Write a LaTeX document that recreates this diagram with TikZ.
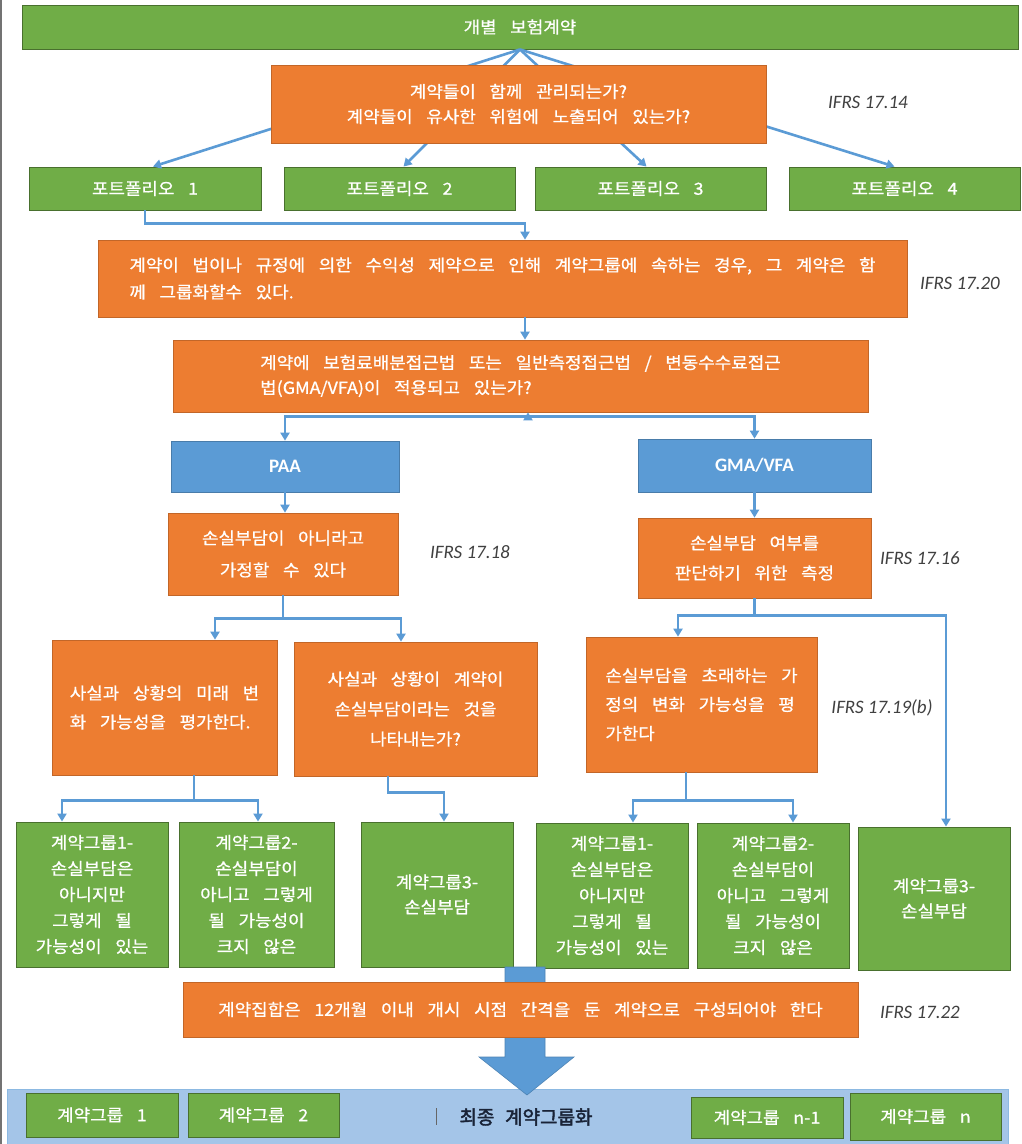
\documentclass[tikz,border=0pt]{standalone}
\usepackage{fontspec}
\newfontfamily\kr{Noto Sans CJK KR}[WordSpace=3.4,FakeStretch=1.08,FakeBold=0.8]
\newfontfamily\krb{Noto Sans CJK KR}[WordSpace=2.5,FakeBold=2.2]
\newfontfamily\ifrsfont{Carlito}
\usetikzlibrary{arrows.meta,calc}
\definecolor{og}{HTML}{ED7D31}
\definecolor{gr}{HTML}{70AD47}
\definecolor{bl}{HTML}{5B9BD5}
\definecolor{lb}{HTML}{A4C5E8}
\begin{document}
\begin{tikzpicture}[x=1pt,y=-1pt,
  box/.style={rectangle, inner sep=0pt, text=white, align=center,
    font=\kr\fontsize{16.6}{26}\selectfont},
  ob/.style={box, fill=og, draw=og!82!black, line width=0.7pt},
  gb/.style={box, fill=gr, draw=gr!65!black, line width=0.9pt},
  bb/.style={box, fill=bl, draw=bl!80!black, line width=0.7pt,
    font=\ifrsfont\bfseries\fontsize{19}{22}\selectfont},
  ref/.style={font=\ifrsfont\itshape\fontsize{19}{22}\selectfont, text=black!75},
  conn/.style={draw=bl, line width=2.6pt},
  arr/.style={conn, -{Triangle[length=8pt,width=9pt]}},
  ls/.style={font=\kr\fontsize{16.6}{#1}\selectfont}
]
\useasboundingbox (0,0) rectangle (1022,1144);
\fill[white] (0,0) rectangle (1022,1144);
\draw[black!55, line width=2pt] (1,0) -- (1,1144);

% top bar and portfolios
\node[gb, minimum width=996pt, minimum height=44pt] (top) at (520,27) {개별 보험계약};
\node[gb, minimum width=232pt, minimum height=43pt] (p1) at (145,188.5) {포트폴리오 1};
\node[gb, minimum width=231pt, minimum height=43pt] (p2) at (399.5,188.5) {포트폴리오 2};
\node[gb, minimum width=231pt, minimum height=43pt] (p3) at (650.5,188.5) {포트폴리오 3};
\node[gb, minimum width=231pt, minimum height=43pt] (p4) at (904.5,188.5) {포트폴리오 4};
\draw[arr] (top.south) -- ($(p1.north)+(8,0)$);
\draw[arr] (top.south) -- ($(p2.north)+(4,0)$);
\draw[arr] (top.south) -- ($(p3.north)+(-4,0)$);
\draw[arr] (top.south) -- ($(p4.north)+(-10,0)$);

\node[ob, minimum width=495pt, minimum height=78pt, ls=25] (b1) at (518.5,104)
  {계약들이 함께 관리되는가?\\계약들이 유사한 위험에 노출되어 있는가?};
\node[ref] (r1) at (868,102) {IFRS 17.14};

\node[ob, minimum width=809pt, minimum height=77pt, align=left, ls=27] (b2) at (502.5,278.5)
  {계약이 법이나 규정에 의한 수익성 제약으로 인해 계약그룹에 속하는 경우, 그 계약은 함\\께 그룹화할수 있다.};
\node[ref] (r2) at (960,283) {IFRS 17.20};
\draw[arr] (p1.south) -- ++(0,13) -| ($(b2.north)+(22.5,0)$);

\node[ob, minimum width=695pt, minimum height=72pt, align=left, ls=25] (b3) at (520.5,376)
  {계약에 보험료배분접근법 또는 일반측정접근법 / 변동수수료접근\\법(GMA/VFA)이 적용되고 있는가?};
\coordinate (c1) at ($(b2.south)+(22.5,0)$);
\draw[arr] (c1) -- (c1 |- b3.north);

\node[bb, minimum width=228pt, minimum height=51pt] (paa) at (285,466.5) {PAA};
\node[bb, minimum width=233pt, minimum height=53pt] (gma) at (754.5,465.5) {GMA/VFA};
\draw[arr] ($(b3.south)+(0,4)$) -| (paa.north);
\draw[arr] ($(b3.south)+(0,4)$) -| (gma.north);
\draw[arr] ($(b3.south)+(7.5,5)$) -- (b3.south -| 528,0);

\node[ob, minimum width=230pt, minimum height=82pt, ls=32] (b4) at (283,554)
  {손실부담이 아니라고\\가정할 수 있다};
\node[ref] (r3) at (470,552) {IFRS 17.18};
\node[ob, minimum width=233pt, minimum height=80pt, ls=30] (b5) at (754.5,558)
  {손실부담 여부를\\판단하기 위한 측정};
\node[ref] (r4) at (920,558) {IFRS 17.16};
\draw[arr] (paa.south) -- (paa.south |- b4.north);
\draw[arr] (gma.south) -- (gma.south |- b5.north);

\node[ob, minimum width=225pt, minimum height=135pt, align=left, ls=29] (b6) at (164.5,707.5)
  {사실과 상황의 미래 변\\화 가능성을 평가한다.};
\node[ob, minimum width=243pt, minimum height=134pt, ls=30] (b7) at (415.5,709)
  {사실과 상황이 계약이\\손실부담이라는 것을\\나타내는가?};
\node[ob, minimum width=231pt, minimum height=135pt, align=left, ls=29] (b8) at (701.5,704.5)
  {손실부담을 초래하는 가\\정의 변화 가능성을 평\\가한다};
\node[ref] (r5) at (882,708) {IFRS 17.19(b)};
\draw[arr] (b4.south) -- ++(0,23) -| ($(b6.north)+(50.5,0)$);
\draw[arr] (b4.south) -- ++(0,23) -| ($(b7.north)+(-14.5,0)$);

\node[gb, minimum width=152pt, minimum height=145pt, ls=26] (g1) at (92,894.5)
  {계약그룹1-\\손실부담은\\아니지만\\그렇게 될\\가능성이 있는};
\node[gb, minimum width=155pt, minimum height=145pt, ls=26] (g2) at (256.5,894.5)
  {계약그룹2-\\손실부담이\\아니고 그렇게\\될 가능성이\\크지 않은};
\node[gb, minimum width=152pt, minimum height=145pt, ls=25] (g3) at (437,894.5)
  {계약그룹3-\\손실부담};
\node[gb, minimum width=152pt, minimum height=145pt, ls=26] (g4) at (612,895.5)
  {계약그룹1-\\손실부담은\\아니지만\\그렇게 될\\가능성이 있는};
\node[gb, minimum width=152pt, minimum height=145pt, ls=26] (g5) at (773,895.5)
  {계약그룹2-\\손실부담이\\아니고 그렇게\\될 가능성이\\크지 않은};
\node[gb, minimum width=152pt, minimum height=143pt, ls=25] (g6) at (934,898.5)
  {계약그룹3-\\손실부담};

\draw[arr] (b5.south) -- ++(0,17) -| ($(b8.north)+(-23.5,0)$);
\draw[arr] (b5.south) -- ++(0,17) -| ($(g6.north)+(12,0)$);
\draw[arr] ($(b6.south)+(29.5,0)$) -- ++(0,25) -| ($(g1.north)+(-30,0)$);
\draw[arr] ($(b6.south)+(29.5,0)$) -- ++(0,25) -| ($(g2.north)+(1.5,0)$);
\draw[arr] ($(b7.south)+(-27.5,0)$) -- ++(0,16) -| ($(g3.north)+(7,0)$);
\draw[arr] ($(b8.south)+(-15.5,0)$) -- ++(0,28) -| ($(g4.north)+(21,0)$);
\draw[arr] ($(b8.south)+(-15.5,0)$) -- ++(0,28) -| ($(g5.north)+(20,0)$);

% bottom bar
\node[rectangle, fill=lb, draw=bl!70, line width=1pt, minimum width=1001pt, minimum height=57pt, inner sep=0pt] (bar) at (507.5,1117.5) {};
\node[gb, minimum width=152pt, minimum height=44pt] (f1) at (102,1115) {계약그룹 1};
\node[gb, minimum width=151pt, minimum height=44pt] (f2) at (263.5,1115) {계약그룹 2};
\node[gb, minimum width=152pt, minimum height=41pt] (f3) at (767,1117.5) {계약그룹 n-1};
\node[gb, minimum width=151pt, minimum height=47pt] (f4) at (925.5,1116.5) {계약그룹 n};
\node[font=\krb\fontsize{19}{22}\selectfont, text={rgb,255:red,25;green,35;blue,55}] (fin) at (526,1117) {최종 계약그룹화};
\draw[black!60, line width=0.8pt] (436,1108) -- (436,1125);

% big arrow
\draw[fill=bl, draw=bl!85!black, line width=0.6pt] (505,967) -- (545,967) -- (545,1057) -- (574,1057) -- (527,1095) -- (479,1057) -- (505,1057) -- cycle;

\node[ob, minimum width=675pt, minimum height=55pt] (b9) at (520.5,1009.5)
  {계약집합은 12개월 이내 개시 시점 간격을 둔 계약으로 구성되어야 한다};
\node[ref] (r6) at (920,1012) {IFRS 17.22};
\end{tikzpicture}
\end{document}
